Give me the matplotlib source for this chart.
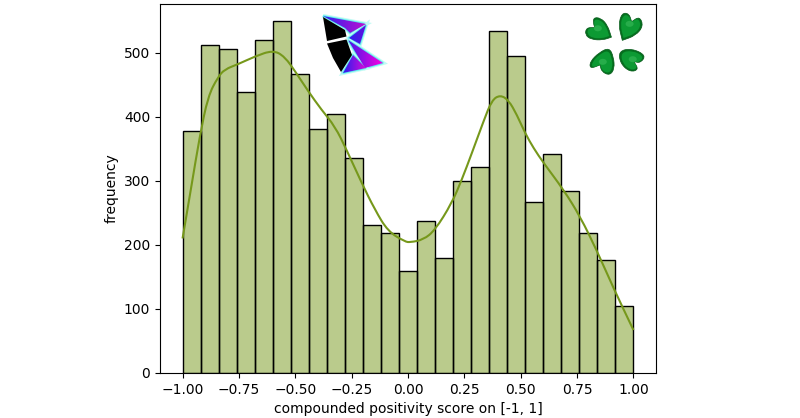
import numpy as np
import matplotlib
matplotlib.use("Agg")
import matplotlib.pyplot as plt
from matplotlib.path import Path
from matplotlib.patches import PathPatch, Polygon, Ellipse
from matplotlib.colors import LinearSegmentedColormap

bin_edges_start = -1.0
bin_width = 0.08
counts = [378, 512, 506, 439, 520, 549, 467, 381, 405, 335, 231, 218, 160,
          237, 180, 300, 321, 534, 495, 267, 342, 284, 218, 176, 105]
kde_x = [-1.0, -0.961, -0.924, -0.887, -0.843, -0.813, -0.754, -0.68, -0.599, -0.547,
         -0.495, -0.443, -0.384, -0.324, -0.272, -0.206, -0.147, -0.089, -0.013, 0.009,
         0.068, 0.12, 0.194, 0.239, 0.283, 0.335, 0.372, 0.409, 0.446, 0.483, 0.52,
         0.557, 0.601, 0.69, 0.764, 0.839, 0.912, 1.0]
kde_y = [210, 291, 369, 432, 462, 474, 482, 494, 504, 494,
         468, 440, 411, 385, 348, 297, 255, 221, 205, 204,
         208, 223, 265, 302, 343, 393, 426, 434, 426, 403, 374,
         351, 328, 286, 244, 190, 132, 67]
xlabel = "compounded positivity score on [-1, 1]"
ylabel = "frequency"
xticks = [-1, -0.75, -0.5, -0.25, 0, 0.25, 0.5, 0.75, 1]
xticklabels = ["\u22121.00", "\u22120.75", "\u22120.50", "\u22120.25", "0.00", "0.25", "0.50", "0.75", "1.00"]

GREEN = "#76981b"
W, H = 800, 418
fig = plt.figure(figsize=(W / 100, H / 100), dpi=100)
ax = fig.add_axes([160 / W, (H - 373) / H, (656 - 160) / W, (373 - 4) / H])
lefts = [bin_edges_start + i * bin_width for i in range(len(counts))]
ax.bar(lefts, counts, width=bin_width, align="edge", color=GREEN, alpha=0.5, linewidth=0)
ax.bar(lefts, counts, width=bin_width, align="edge", fill=False, edgecolor="black", linewidth=1)


def open_smooth(x, y):
    pts = np.column_stack([x, y]).astype(float)
    mids = (pts[:-1] + pts[1:]) / 2
    verts = [pts[0], mids[0]]
    codes = [Path.MOVETO, Path.LINETO]
    for i in range(1, len(pts) - 1):
        verts += [pts[i], mids[i]]
        codes += [Path.CURVE3, Path.CURVE3]
    verts.append(pts[-1])
    codes.append(Path.LINETO)
    return Path(verts, codes)


ax.add_patch(PathPatch(open_smooth(kde_x, kde_y), fc="none", ec=GREEN, lw=1.5, zorder=3))
ax.set_xlim(-1.1, 1.1)
ax.set_ylim(0, 576)
ax.set_xticks(xticks)
ax.set_xticklabels(xticklabels)
ax.set_yticks(range(0, 501, 100))
ax.set_xlabel(xlabel)
ax.set_ylabel(ylabel)

# decorative icons, drawn in figure pixel coordinates
ov = fig.add_axes([0, 0, 1, 1], facecolor="none")
ov.axis("off")


def grad_fill(patch, pts, c1, c2, zorder):
    cmap = LinearSegmentedColormap.from_list("g", [c1, c2])
    pts = np.array(pts, float)
    x0, y0 = pts.min(0) - 1
    x1, y1 = pts.max(0) + 1
    g = np.linspace(0, 1, 64)[None, :]
    im = ov.imshow(g, extent=[x0, x1, y1, y0], cmap=cmap, aspect="auto", zorder=zorder)
    ov.add_patch(patch)
    im.set_clip_path(patch)


shapes = [
    ([(323, 16), (366, 24), (350, 33), (345, 28)], "#2a20f0", "#c010d0"),
    ([(366, 25), (360, 44), (349, 38)], "#3020f0", "#6010e0"),
    ([(348, 40), (383, 63), (365, 68)], "#4018e8", "#ff00e0"),
    ([(353, 55), (366, 68), (343, 73)], "#2020f0", "#e008d8"),
]
for pts, c1, c2 in shapes:
    ov.add_patch(Polygon(pts, closed=True, fc="none", ec="#c0fbf4", lw=3, zorder=2))
    ov.add_patch(Polygon(pts, closed=True, fc="none", ec="#60f0f0", lw=1.4, zorder=2))
    grad_fill(Polygon(pts, closed=True, fc="none", ec="none", zorder=3), pts, c1, c2, 3)
ov.plot([348, 342], [40, 73], color="#90e8f0", lw=1.0, zorder=3)
for pts in ([(323, 17), (345, 30), (346.5, 36.5), (327, 41)],
            [(327, 43.5), (346.5, 39.5), (352, 55), (341, 72), (333, 58)]):
    ov.add_patch(Polygon(pts, closed=True, fc="black", ec="none", zorder=4))


def smooth(pts):
    pts = np.array(pts, float)
    n = len(pts)
    mids = (pts + np.roll(pts, -1, axis=0)) / 2
    verts = [mids[-1]]
    codes = [Path.MOVETO]
    for i in range(n):
        verts += [pts[i], mids[i]]
        codes += [Path.CURVE3, Path.CURVE3]
    return Path(verts, codes)


leaves = [
    [(612, 37.5), (612, 37.5), (608, 25), (601, 17.5), (593, 17), (593.5, 25), (595, 27.5), (595, 27.5),
     (586, 27.5), (584.5, 35), (591, 40), (603, 40.5)],
    [(622, 41), (622, 41), (618, 25), (621.5, 12.5), (629, 13), (631.7, 21.5), (631.7, 21.5),
     (640, 16), (644, 26), (636, 36)],
    [(609.5, 47), (599, 52), (589.5, 61.5), (589.5, 69), (600, 65), (600, 65), (601.5, 72), (610, 76),
     (615, 69), (614, 56.5)],
    [(618, 50.5), (632, 48), (646.5, 55), (641, 63), (634, 61.7), (634, 61.7), (639, 70),
     (630, 72.5), (620, 64)],
]
for pts in leaves:
    a = np.array(pts)
    c = a.mean(0)
    a = c + (a - c) * 0.96
    ov.add_patch(PathPatch(smooth(a), fc="#05701f", ec="#055a18", lw=0.5, zorder=3))
    ip = c + (a - c) * 0.84
    ov.add_patch(PathPatch(smooth(ip), fc="#0c9a33", ec="none", zorder=4))
    ov.add_patch(Ellipse((c[0], c[1] - 1.5), 8, 6, fc="#27ad4a", ec="none", zorder=5))

ov.set_xlim(0, W)
ov.set_ylim(H, 0)
ov.set_aspect("auto")

fig.savefig("out.png", dpi=100)
